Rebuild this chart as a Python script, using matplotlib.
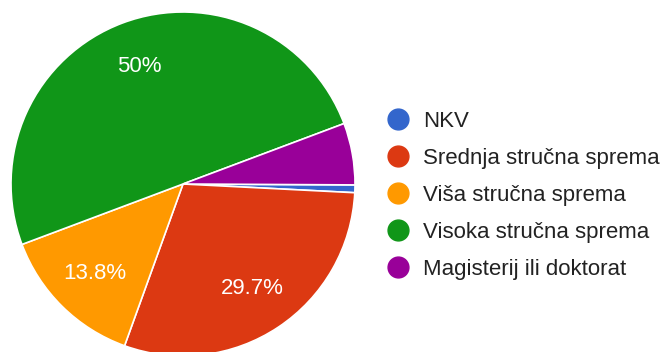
import matplotlib.pyplot as plt
from matplotlib.lines import Line2D

plt.rcParams['font.family'] = ['Liberation Sans', 'DejaVu Sans']

# responses per education level (138 total)
categories = ["NKV", "Srednja stručna sprema", "Viša stručna sprema",
              "Visoka stručna sprema", "Magisterij ili doktorat"]
counts = [1, 41, 19, 69, 8]
colors = ["#3366cc", "#dc3912", "#ff9900", "#109618", "#990099"]

W, H = 670, 352
fig = plt.figure(figsize=(W / 100, H / 100), dpi=100)

# pie centred at (183, 184) px with radius 172 px
cx, cy, r = 183, 184, 172
ax = fig.add_axes([(cx - r) / W, (H - cy - r) / H, 2 * r / W, 2 * r / H])


def pct_label(p):
    # small slices get no label
    if p < 10:
        return ""
    return f"{p:.1f}%".replace(".0%", "%")


wedges, texts, autotexts = ax.pie(
    counts, colors=colors, startangle=-0.3, counterclock=False,
    autopct=pct_label, pctdistance=0.73,
    wedgeprops=dict(edgecolor="white", linewidth=1.2),
    textprops=dict(color="white", fontsize=16))
ax.set_xlim(-1, 1)
ax.set_ylim(-1, 1)
ax.set_aspect("equal")
ax.axis("off")

handles = [Line2D([], [], marker="o", linestyle="", markersize=15,
                  markerfacecolor=c, markeredgecolor=c) for c in colors]
fig.legend(handles, categories, loc="upper left",
           bbox_to_anchor=(385 / W, 1 - 111 / H), frameon=False,
           fontsize=16, labelcolor="#222222", handletextpad=0.5,
           labelspacing=0.72, borderaxespad=0, borderpad=0,
           handlelength=1.2)

fig.savefig("out.png", dpi=100)
